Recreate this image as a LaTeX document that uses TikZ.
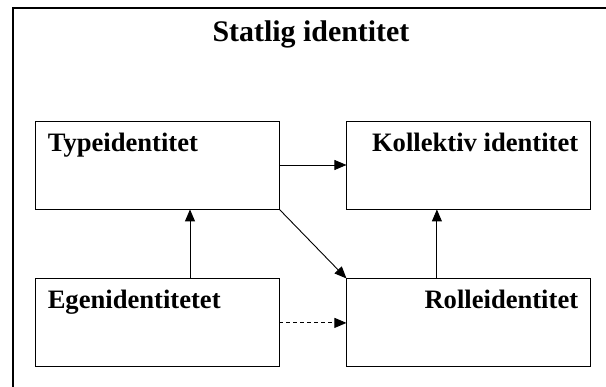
\documentclass[tikz,border=0pt]{standalone}
\usepackage{fontspec}
\setmainfont{Liberation Serif}
\usetikzlibrary{arrows.meta, positioning, calc}

\begin{document}
\begin{tikzpicture}[x=1pt, y=-1pt, >={Triangle[length=12pt,width=10pt]},
    box/.style={draw, line width=0.9pt, minimum width=244pt, minimum height=88pt, inner sep=0pt},
    lbl/.style={font=\fontsize{26.6}{30}\selectfont\bfseries, inner sep=0pt},
    arr/.style={->, line width=0.9pt}]
  \useasboundingbox (0,0) rectangle (606,387);
  \draw[line width=1.5pt] (13,387) -- (13,8) -- (606,8);
  \node[font=\fontsize{29.9}{34}\selectfont\bfseries, inner sep=0pt, anchor=base] (title) at (311,42) {Statlig identitet};

  \node[box] (type) at (157,165) {};
  \node[box, right=67pt of type] (koll) {};
  \node[box, below=69pt of type] (egen) {};
  \node[box, right=67pt of egen] (rolle) {};

  \node[lbl, anchor=base west] (typetxt) at ([shift={(13,31)}]type.north west) {Typeidentitet};
  \node[lbl, anchor=base east] (kolltxt) at ([shift={(-13,31)}]koll.north east) {Kollektiv identitet};
  \node[lbl, anchor=base west] (egentxt) at ([shift={(13,30)}]egen.north west) {Egenidentitetet};
  \node[lbl, anchor=base east] (rolletxt) at ([shift={(-13,30)}]rolle.north east) {Rolleidentitet};

  \draw[arr] (type) -- (koll);
  \draw[arr] ([xshift=33pt]egen.north) -- ([xshift=33pt]type.south);
  \draw[arr] ([xshift=-32pt]rolle.north) -- ([xshift=-32pt]koll.south);
  \draw[arr] (type.south east) -- (rolle.north west);
  \draw[arr, dash pattern=on 4pt off 3pt] (egen) -- (rolle);
\end{tikzpicture}
\end{document}
